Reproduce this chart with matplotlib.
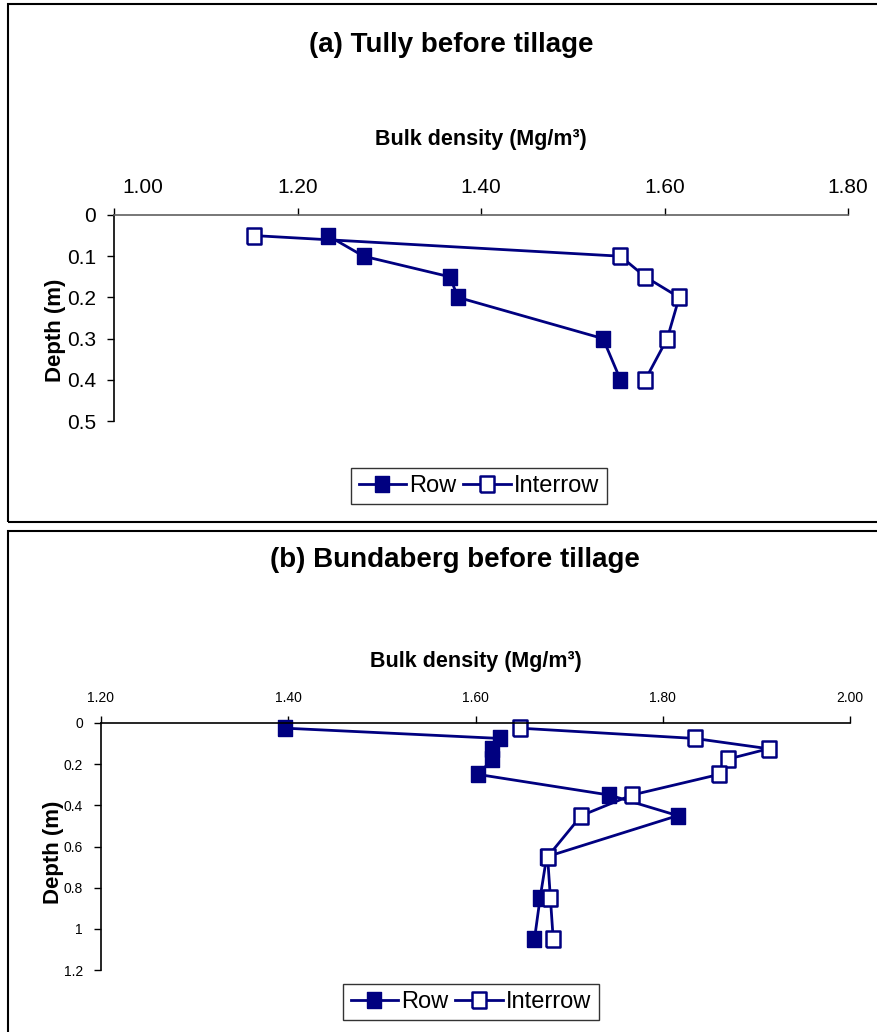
import matplotlib
matplotlib.use("Agg")
import matplotlib.pyplot as plt
import matplotlib.transforms as mtransforms
from matplotlib.patches import Rectangle

plt.rcParams['font.family'] = ['Liberation Sans', 'DejaVu Sans']

# Tully, before tillage
tully_depth = [0.05, 0.1, 0.15, 0.2, 0.3, 0.4]
tully_row = [1.233, 1.272, 1.366, 1.375, 1.533, 1.552]
tully_interrow = [1.153, 1.552, 1.579, 1.616, 1.603, 1.579]
tully_xticks = [1.00, 1.20, 1.40, 1.60, 1.80]
tully_yticks = [0, 0.1, 0.2, 0.3, 0.4, 0.5]

# Bundaberg, before tillage
bund_depth = [0.025, 0.075, 0.125, 0.175, 0.25, 0.35, 0.45, 0.65, 0.85, 1.05]
bund_row = [1.396, 1.626, 1.618, 1.618, 1.603, 1.743, 1.816, 1.676, 1.669, 1.663]
bund_interrow = [1.647, 1.834, 1.913, 1.870, 1.860, 1.767, 1.713, 1.677, 1.680, 1.683]
bund_xticks = [1.20, 1.40, 1.60, 1.80, 2.00]
bund_yticks = [0, 0.2, 0.4, 0.6, 0.8, 1, 1.2]

W, H = 877, 1032
NAVY = '#000080'
XLABEL = 'Bulk density (Mg/m\u00b3)'
# slightly tall box marker
BOX = [(-0.85, -1), (0.85, -1), (0.85, 1), (-0.85, 1), (-0.85, -1)]

fig = plt.figure(figsize=(W / 100, H / 100), dpi=100)


def px_axes(left, top, right, bottom):
    # axes placed by pixel edges
    return fig.add_axes([left / W, 1 - bottom / H, (right - left) / W, (bottom - top) / H])


def panel(ax, depth, row, inter, xticks, yticks, tick_fs, ylabels, spine_col):
    ax.plot(row, depth, '-', marker=BOX, color=NAVY, lw=2, ms=11.5, mfc=NAVY, mec=NAVY,
            label='Row', clip_on=False)
    ax.plot(inter, depth, '-', marker=BOX, color=NAVY, lw=2, ms=11.5, mfc='white', mec=NAVY,
            mew=1.8, label='Interrow', clip_on=False)
    ax.set_xlim(xticks[0], xticks[-1])
    ax.set_ylim(yticks[-1], yticks[0])
    ax.xaxis.tick_top()
    ax.set_xticks(xticks)
    ax.set_xticklabels(['%.2f' % v for v in xticks])
    ax.set_yticks(yticks)
    ax.set_yticklabels(ylabels)
    ax.tick_params(axis='both', direction='out', length=5, width=1, labelsize=tick_fs, pad=8)
    for s in ['right', 'bottom']:
        ax.spines[s].set_visible(False)
    ax.spines['top'].set_color(spine_col)
    ax.spines['top'].set_linewidth(1.2)
    ax.spines['left'].set_linewidth(1.2)


def add_legend(ax, cx, cy):
    leg = ax.legend(loc='center', bbox_to_anchor=(cx / W, 1 - cy / H), bbox_transform=fig.transFigure,
                    ncol=2, fontsize=17, frameon=True, fancybox=False, edgecolor='black',
                    handlelength=2.0, columnspacing=0.3, handletextpad=0.15, borderpad=0.3,
                    borderaxespad=0)
    leg.get_frame().set_linewidth(1.0)
    return leg


# panel (a)
ax1 = px_axes(114, 215, 848, 421)
panel(ax1, tully_depth, tully_row, tully_interrow, tully_xticks, tully_yticks, 15,
      ['0', '0.1', '0.2', '0.3', '0.4', '0.5'], '#606060')
# first x label sits right of its tick
first = ax1.get_xticklabels()[0]
first.set_ha('left')
first.set_transform(first.get_transform() + mtransforms.ScaledTranslation(8 / 100, 0, fig.dpi_scale_trans))

fig.text(451 / W, 1 - 45 / H, '(a) Tully before tillage', ha='center', va='center',
         fontsize=20, fontweight='bold')
fig.text(481 / W, 1 - 140 / H, XLABEL, ha='center', va='center',
         fontsize=15.5, fontweight='bold')
fig.text(55 / W, 1 - 330 / H, 'Depth (m)', ha='center', va='center', rotation=90,
         fontsize=16, fontweight='bold')
add_legend(ax1, 479, 486)

# panel (b)
ax2 = px_axes(101, 723, 850, 970)
panel(ax2, bund_depth, bund_row, bund_interrow, bund_xticks, bund_yticks, 10,
      ['0', '0.2', '0.4', '0.6', '0.8', '1', '1.2'], 'black')
fig.text(455 / W, 1 - 560 / H, '(b) Bundaberg before tillage', ha='center', va='center',
         fontsize=20, fontweight='bold')
fig.text(476 / W, 1 - 662 / H, XLABEL, ha='center', va='center',
         fontsize=15.5, fontweight='bold')
fig.text(53 / W, 1 - 852 / H, 'Depth (m)', ha='center', va='center', rotation=90,
         fontsize=16, fontweight='bold')
add_legend(ax2, 471, 1002)

# frames round each chart
fig.patches.append(Rectangle((8 / W, 1 - 522 / H), 880 / W, 518 / H, transform=fig.transFigure,
                             fill=False, edgecolor='black', lw=1.5))
fig.patches.append(Rectangle((8 / W, -10 / H), 880 / W, (1032 - 531 + 10) / H, transform=fig.transFigure,
                             fill=False, edgecolor='black', lw=1.5))

fig.savefig('out.png', dpi=100)
